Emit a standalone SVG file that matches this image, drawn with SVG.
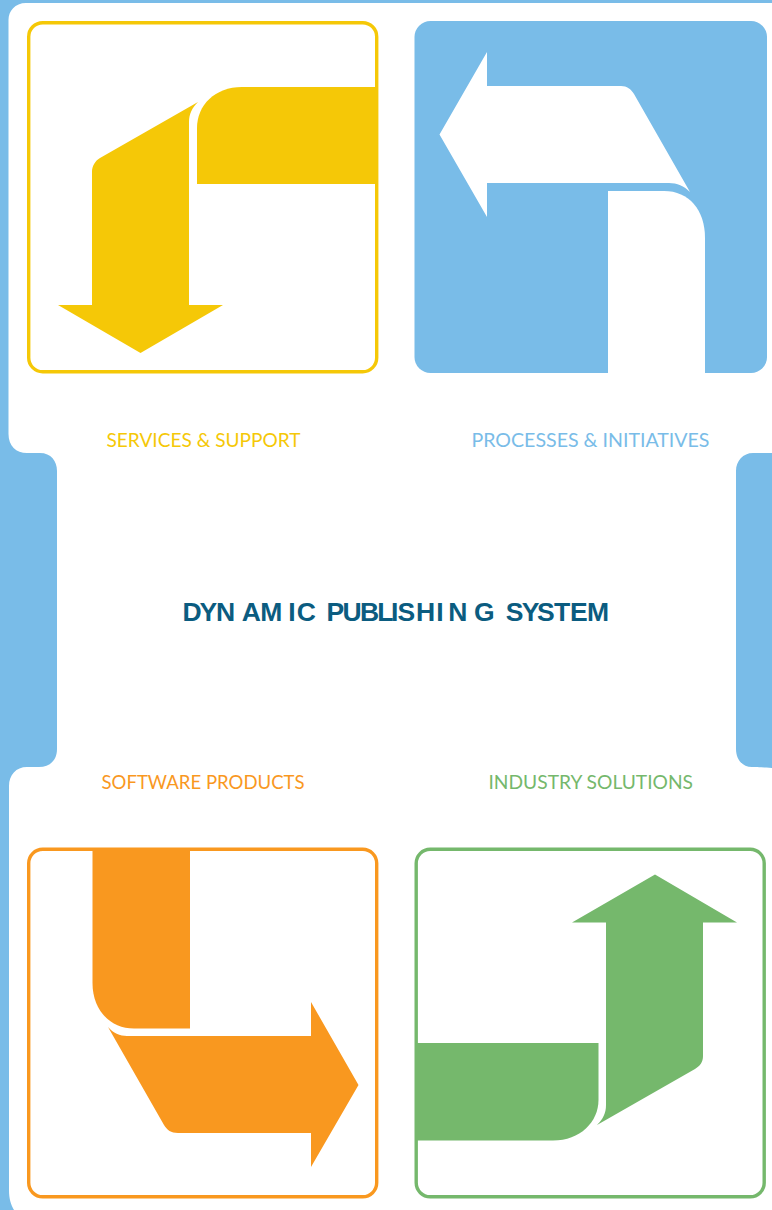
<svg xmlns="http://www.w3.org/2000/svg" width="772" height="1210" viewBox="0 0 772 1210">
<style>
.lab{font-family:Lato,"Open Sans","Liberation Sans",sans-serif;font-size:19.5px}
.box{fill:none;stroke-width:3.4}
.title{font-family:"Liberation Sans",Arial,sans-serif;font-weight:700;font-size:26.5px;fill:#0b5c80}
</style>
<g id="background">
<rect width="772" height="1210" fill="#79bce8"/>
<path fill="#fff" d="M772,3 H26 C15,3 8.500,11 8.500,20 V434 C8.500,446 16,453 27,453 H40 C51,453 57,461 57,471 V749 C57,760 50,767 39,767 H27 C16,767 9,775 9,786 V1190 C9,1199 11,1205 14,1210 H772 V768 C760,767 753,767 752,767 C742,767 736,759 736,749 V471 C736,461 743,453 753,453 H772 Z"/>
</g>
<g id="services-support">
<rect class="box" x="28.700" y="22.700" width="348" height="349" rx="14" stroke="#f5c807"/>
<path fill="#f5c807" d="M378,87 H242 C215,87 197,105 197,128 V184 H378 Z"/>
<path fill="#f5c807" d="M198,102 L100,158 C95,161 92,166 92,172 V305 H58 L140.500,353 L223,305 H189 V122 C189,114 192,108 198,102 Z"/>
<text class="lab" x="106.500" y="447" fill="#f5c807" textLength="194" lengthAdjust="spacingAndGlyphs">SERVICES &amp; SUPPORT</text>
</g>
<g id="processes-initiatives">
<rect x="414.500" y="21" width="352.500" height="352" rx="16" fill="#79bce8"/>
<path fill="#fff" d="M439.500,134.500 L487,52 V86 H621 C627,86 631,89 634,94 L690,192 C684,186 677,183 669,183 H487 V217 Z"/>
<path fill="#fff" d="M608,373 V191 H664 C689,191 705,210 705,238 V373 Z"/>
<text class="lab" x="471.500" y="447" fill="#79bce8" textLength="238" lengthAdjust="spacingAndGlyphs">PROCESSES &amp; INITIATIVES</text>
</g>
<g id="dynamic-publishing-system">
<text class="title" y="621" x="182.600 199.500 216 241.700 260.300 288.300 296.700 320 326.600 342.400 360 377.300 391 397.500 416 436.300 448.300 474 495 505.700 521.700 537 554 570 587">DYNAMIC PUBLISHING SYSTEM</text>
</g>
<g id="software-products">
<rect class="box" x="28.700" y="849.300" width="348" height="347.500" rx="14" stroke="#f9981f"/>
<path fill="#f9981f" d="M92.500,849 V983 C92.500,1010 110,1028.500 134,1028.500 H190 V849 Z"/>
<path fill="#f9981f" d="M108,1027 C113,1033 120,1036 127,1036 H311 V1002 L358.500,1085 L311,1167 V1133 H178 C171,1133 167,1130 164,1125 Z"/>
<text class="lab" x="101.500" y="788.500" fill="#f9981f" textLength="203" lengthAdjust="spacingAndGlyphs">SOFTWARE PRODUCTS</text>
</g>
<g id="industry-solutions">
<rect class="box" x="416.200" y="849.300" width="348" height="347.500" rx="14" stroke="#75b86c"/>
<path fill="#75b86c" d="M416,1043 H598.500 V1100 C598.500,1122 580,1140.500 553,1140.500 H416 Z"/>
<path fill="#75b86c" d="M597,1125 C603,1119 606,1113 606,1105 V922.500 H572 L655,874.500 L737,922.500 H703 V1056 C703,1062 700,1066 695,1069 Z"/>
<text class="lab" x="488.500" y="788.500" fill="#75b86c" textLength="204.500" lengthAdjust="spacingAndGlyphs">INDUSTRY SOLUTIONS</text>
</g>
<g id="connectors"/>
</svg>
